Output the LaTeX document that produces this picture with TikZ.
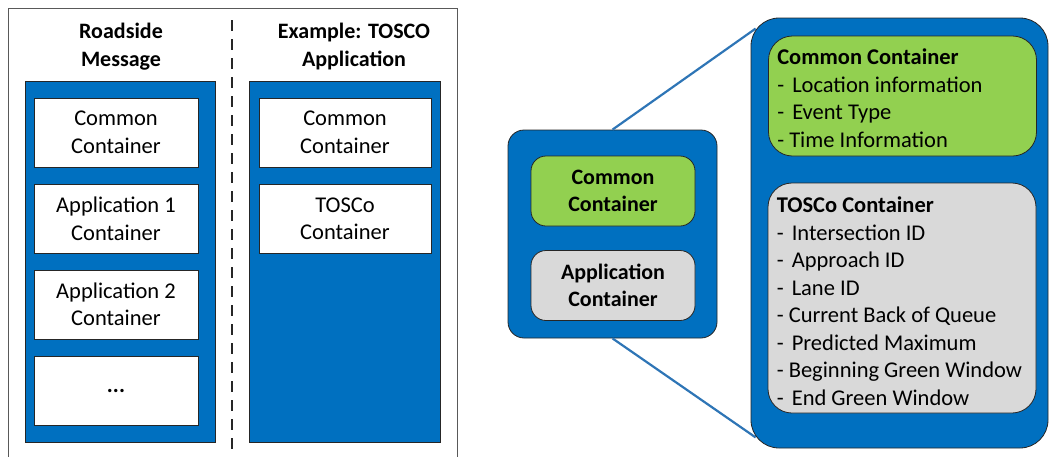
\documentclass[tikz,border=0pt]{standalone}
\usepackage{fontspec}
\setmainfont{Carlito}
\usetikzlibrary{calc}
\definecolor{msblue}{HTML}{0070C0}
\definecolor{msgreen}{HTML}{92D050}
\definecolor{msgray}{HTML}{D9D9D9}
\definecolor{edge}{HTML}{262626}
\definecolor{frame}{HTML}{595959}
\definecolor{linkblue}{HTML}{2E75B6}
\newcommand{\dd}{-\ \kern3pt}
\tikzset{
  txt/.style={font=\fontsize{22.5}{27.5}\selectfont},
  head/.style={font=\bfseries\fontsize{22}{28}\selectfont, align=center, inner sep=0pt},
  panel/.style={draw=edge, line width=0.8pt, fill=msblue, inner sep=0pt},
  slot/.style={draw=edge, line width=0.8pt, fill=white, minimum height=69pt, align=center, inner sep=0pt, txt},
  capsule/.style={draw=edge, line width=0.8pt, rounded corners=15pt, minimum width=164pt, minimum height=70pt, align=center, inner sep=0pt, font=\bfseries\fontsize{22}{27.5}\selectfont},
  detail/.style={draw=edge, line width=0.8pt, rounded corners=24pt, minimum width=268pt, inner sep=0pt},
  listing/.style={anchor=west, align=left, inner sep=0pt, txt},
  link/.style={draw=linkblue, line width=2.2pt},
}
\begin{document}
\begin{tikzpicture}[x=1pt, y=-1pt]
\useasboundingbox (0,0) rectangle (1050,456);
\clip (0,0) rectangle (1050,456);

% outer frame of the left half (runs past the bottom edge)
\node[draw=frame, line width=1pt, minimum width=449pt, minimum height=470pt, inner sep=0pt] (frm) at (232.5,243) {};
\draw[edge, line width=1.5pt, dash pattern=on 11pt off 8pt] (232,20) -- (232,454);

% column headings
\node[head] (h1) at (121,47) {Roadside\\Message};
\node[head] (h2) at (354,47) {Example: TOSCO\\Application};

% roadside message column
\node[panel, minimum width=190pt, minimum height=361pt] (rsm) at (120,261.5) {};
\node[slot, minimum width=164pt] (r1) at (116,132.5) {Common\\Container};
\node[slot, minimum width=164pt] (r2) at (116,219) {Application 1\\Container};
\node[slot, minimum width=164pt] (r3) at (116,304.5) {Application 2\\Container};
\node[slot, minimum width=164pt] (r4) at (116,391) {\textbf{...}};

% TOSCo application column
\node[panel, minimum width=191pt, minimum height=361pt] (tos) at (344.5,261.5) {};
\node[slot, minimum width=172pt] (t1) at (345,132.5) {Common\\Container};
\node[slot, minimum width=172pt] (t2) at (345,219) {TOSCo\\Container};

% message structure, compact view
\node[panel, rounded corners=16pt, minimum width=209pt, minimum height=208pt] (msg) at (612.5,234) {};
\node[capsule, fill=msgreen] (cc) at (613,191) {Common\\Container};
\node[capsule, fill=msgray] (ac) at (613,285.5) {Application\\Container};

% message structure, expanded view
\node[panel, rounded corners=28pt, minimum width=297pt, minimum height=430pt] (big) at (899.5,233) {};
\coordinate (bt) at ($(big.north west)+(5,11)$);
\coordinate (bb) at ($(big.south west)+(5,-11)$);
\node[detail, fill=msgreen, minimum height=120pt] (ccx) at (902.5,96) {};
\node[listing] (ccl) at ($(ccx.west)+(9,2)$)
  {\textbf{Common Container}\\\dd Location information\\\dd Event Type\\- Time Information};
\node[detail, fill=msgray, minimum height=230pt] (tcx) at (902,298) {};
\node[listing] (tcl) at ($(tcx.west)+(9,3)$)
  {\textbf{TOSCo Container}\\\dd Intersection ID\\\dd Approach ID\\\dd Lane ID\\- Current Back of Queue\\\dd Predicted Maximum\\- Beginning Green Window\\\dd End Green Window};

% zoom lines
\draw[link] (msg.north) -- (bt);
\draw[link] (msg.south) -- (bb);
\end{tikzpicture}
\end{document}
